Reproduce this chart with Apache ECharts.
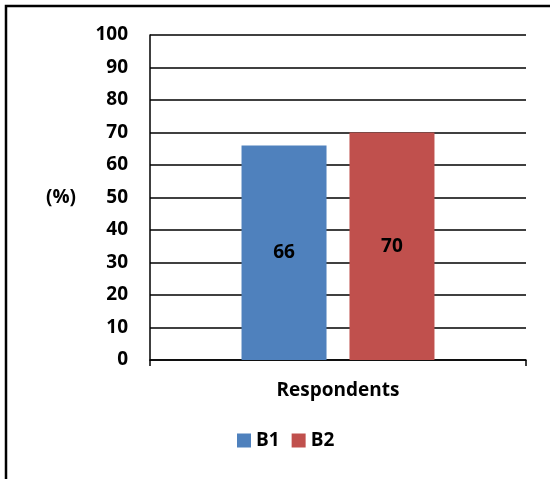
<!DOCTYPE html>
<html>
<head>
<meta charset="utf-8">
<script src="https://cdn.jsdelivr.net/npm/echarts@6/dist/echarts.min.js"></script>
<style>
  html, body { margin: 0; padding: 0; background: #fff; }
  #chart { width: 550px; height: 479px; }
</style>
</head>
<body>
<div id="chart"></div>
<script>
// Share of respondents (%) per group
const categories = ['Respondents'];
const seriesNames = ['B1', 'B2'];
const b1Values = [66];
const b2Values = [70];
const yTicks = { min: 0, max: 100, interval: 10 };

const FONT = '"Open Sans", "Noto Sans", sans-serif';
const FONT_SIZE = 19;
const colors = ['#4F81BD', '#C0504D'];

const chart = echarts.init(document.getElementById('chart'), null, { renderer: 'canvas' });

const labelStyle = {
  show: true,
  position: 'inside',
  color: '#000',
  fontFamily: FONT,
  fontWeight: 'bold',
  fontSize: FONT_SIZE
};

chart.setOption({
  animation: false,
  backgroundColor: '#fff',
  // frame: top and left edges only
  graphic: [{
    type: 'polyline',
    shape: { points: [[6, 479], [6, 6], [550, 6]] },
    style: { fill: 'none', stroke: '#000', lineWidth: 2.5 },
    silent: true
  }],
  grid: { left: 150, right: 24, top: 35, bottom: 119 },
  legend: {
    data: seriesNames,
    bottom: 24,
    left: 232,
    itemWidth: 14,
    itemHeight: 14,
    itemGap: 12,
    icon: 'rect',
    textStyle: { fontFamily: FONT, fontWeight: 'bold', fontSize: FONT_SIZE, color: '#000' }
  },
  xAxis: {
    type: 'category',
    data: categories,
    axisLine: { lineStyle: { color: '#000', width: 1.5 } },
    axisTick: { show: true, length: 6, lineStyle: { color: '#000', width: 1.5 } },
    axisLabel: { margin: 21, color: '#000', fontFamily: FONT, fontWeight: 'bold', fontSize: FONT_SIZE }
  },
  yAxis: {
    type: 'value',
    min: yTicks.min,
    max: yTicks.max,
    interval: yTicks.interval,
    name: '(%)',
    nameLocation: 'middle',
    nameRotate: 0,
    nameGap: 89,
    nameTextStyle: { color: '#000', fontFamily: FONT, fontWeight: 'bold', fontSize: FONT_SIZE, align: 'center', verticalAlign: 'middle' },
    axisLine: { show: true, lineStyle: { color: '#000', width: 1.5 } },
    axisTick: { show: false },
    axisLabel: { margin: 22, color: '#000', fontFamily: FONT, fontWeight: 'bold', fontSize: FONT_SIZE },
    splitLine: { show: true, lineStyle: { color: '#000', width: 1.5 } }
  },
  series: [
    {
      name: seriesNames[0],
      type: 'bar',
      data: b1Values,
      barWidth: 85,
      barGap: '27%',
      itemStyle: { color: colors[0] },
      label: labelStyle
    },
    {
      name: seriesNames[1],
      type: 'bar',
      data: b2Values,
      barWidth: 85,
      itemStyle: { color: colors[1] },
      label: labelStyle
    }
  ]
});
</script>
</body>
</html>
